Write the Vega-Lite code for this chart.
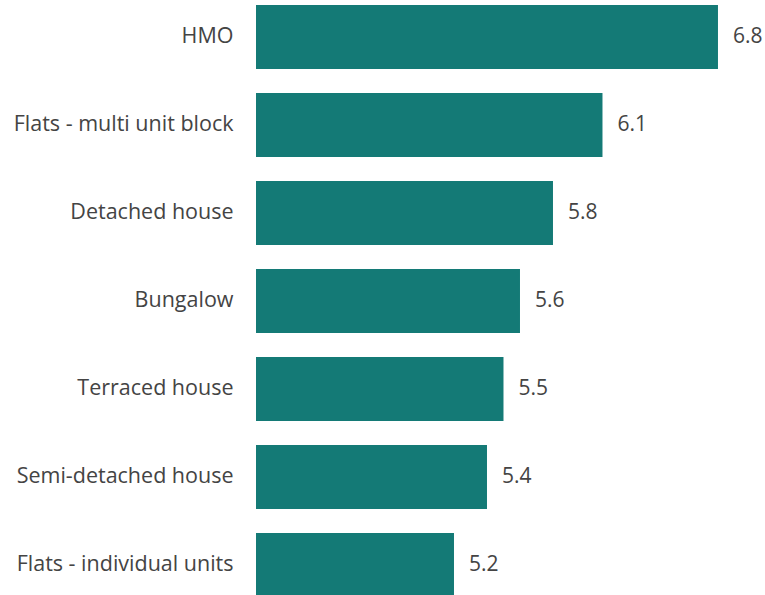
{
  "$schema": "https://vega.github.io/schema/vega-lite/v6.json",
  "autosize": {"type": "none"},
  "padding": {"left": 256, "top": 0, "right": 0, "bottom": 0},
  "width": 509,
  "height": 602,
  "background": "white",
  "config": {"view": {"stroke": null}, "font": "Open Sans"},
  "data": {"values": [
    {"type": "HMO", "value": 6.8},
    {"type": "Flats - multi unit block", "value": 6.1},
    {"type": "Detached house", "value": 5.8},
    {"type": "Bungalow", "value": 5.6},
    {"type": "Terraced house", "value": 5.5},
    {"type": "Semi-detached house", "value": 5.4},
    {"type": "Flats - individual units", "value": 5.2}
  ]},
  "encoding": {
    "y": {"field": "type", "type": "nominal", "sort": null,
      "scale": {"paddingInner": 0.2727, "paddingOuter": 0.057},
      "axis": {"title": null, "ticks": false, "domain": false, "labelPadding": 23, "labelFontSize": 21.5, "labelColor": "#444444", "labelFont": "Open Sans", "labelLimit": 300}},
    "x": {"field": "value", "type": "quantitative", "scale": {"domain": [4, 7.085], "zero": false, "nice": false}, "axis": null}
  },
  "layer": [
    {"mark": {"type": "bar", "color": "#147a76"}, "encoding": {"x2": {"datum": 4}}},
    {"mark": {"type": "text", "align": "left", "baseline": "middle", "dx": 15, "fontSize": 21, "color": "#444444", "font": "Open Sans"},
     "encoding": {"text": {"field": "value", "type": "quantitative", "format": ".1f"}}}
  ]
}
